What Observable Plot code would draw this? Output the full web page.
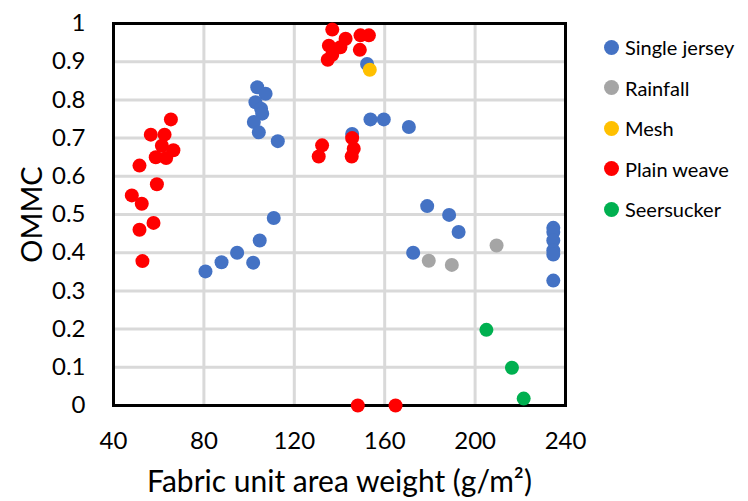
<!DOCTYPE html>
<html>
<head>
<meta charset="utf-8">
<script src="https://cdn.jsdelivr.net/npm/d3@7"></script>
<script src="https://cdn.jsdelivr.net/npm/@observablehq/plot@0.6"></script>
<style>
  html, body { margin: 0; padding: 0; background: #fff; }
  #wrap { position: relative; width: 748px; height: 501px; font-family: Lato, "Open Sans", sans-serif; }
  #legend { position: absolute; left: 604px; top: 27px; }
  .row { height: 40.5px; display: flex; align-items: center; font-size: 20px; color: #000; white-space: nowrap; }
  .sw { width: 15px; height: 15px; border-radius: 50%; margin-right: 6px; }
</style>
</head>
<body>
<div id="wrap"><div id="legend"></div></div>
<script>
// Series names and colours
const seriesNames = ["Single jersey", "Rainfall", "Mesh", "Plain weave", "Seersucker"];
const seriesColors = ["#4472C4", "#A5A5A5", "#FFC000", "#FF0000", "#00B050"];

// Ticks
const xTicks = [40, 80, 120, 160, 200, 240];
const yTicks = [0, 0.1, 0.2, 0.3, 0.4, 0.5, 0.6, 0.7, 0.8, 0.9, 1];

// Single jersey
const jerseyX = [103.6, 107.3, 102.8, 105.3, 105.8, 102.1, 104.3, 112.7,
  80.7, 87.8, 94.7, 101.8, 104.7, 110.9,
  178.8, 188.5, 192.7, 172.6,
  234.6, 234.6, 234.6, 234.6, 234.6, 234.6,
  152.2, 153.7, 159.6, 170.7, 145.6];
const jerseyY = [0.833, 0.816, 0.794, 0.777, 0.764, 0.742, 0.715, 0.692,
  0.351, 0.375, 0.400, 0.374, 0.432, 0.491,
  0.522, 0.499, 0.454, 0.400,
  0.465, 0.454, 0.432, 0.406, 0.395, 0.327,
  0.894, 0.749, 0.749, 0.729, 0.711];

// Rainfall
const rainfallX = [179.5, 189.7, 209.5];
const rainfallY = [0.379, 0.368, 0.419];

// Mesh
const meshX = [153.4];
const meshY = [0.879];

// Plain weave
const plainX = [65.4, 56.5, 62.6, 61.4, 66.5, 58.7, 63.3, 51.5, 59.2, 48.1, 52.5, 57.7, 51.5, 52.8,
  132.3, 130.8, 145.6, 146.3, 145.4,
  136.8, 142.7, 149.3, 153.0, 135.3, 140.4, 149.0, 136.8, 134.8,
  148.1, 164.8];
const plainY = [0.749, 0.709, 0.709, 0.680, 0.668, 0.650, 0.648, 0.628, 0.579, 0.550, 0.528, 0.478, 0.460, 0.378,
  0.681, 0.652, 0.700, 0.672, 0.652,
  0.984, 0.960, 0.969, 0.969, 0.942, 0.938, 0.931, 0.918, 0.905,
  0, 0];

// Seersucker
const seerX = [205.0, 216.3, 221.5];
const seerY = [0.198, 0.099, 0.018];

const seriesX = [jerseyX, rainfallX, meshX, plainX, seerX];
const seriesY = [jerseyY, rainfallY, meshY, plainY, seerY];

const data = [];
seriesNames.forEach((name, i) => {
  seriesX[i].forEach((x, j) => data.push({series: name, x, y: seriesY[i][j]}));
});

const chart = Plot.plot({
  width: 748,
  height: 501,
  marginLeft: 113,
  marginRight: 183,
  marginTop: 23,
  marginBottom: 96,
  style: {fontFamily: "Lato, 'Open Sans', sans-serif", fontSize: "24px", color: "#000", background: "#fff"},
  x: {domain: [40, 240]},
  y: {domain: [0, 1]},
  color: {domain: seriesNames, range: seriesColors},
  marks: [
    Plot.gridX(xTicks, {stroke: "#d9d9d9", strokeOpacity: 1, strokeWidth: 3}),
    Plot.gridY(yTicks, {stroke: "#d9d9d9", strokeOpacity: 1, strokeWidth: 3}),
    Plot.frame({stroke: "#000", strokeWidth: 3}),
    Plot.axisX({ticks: xTicks, tickSize: 0, tickPadding: 26, fontSize: 24,
      label: "Fabric unit area weight (g/m²)", labelAnchor: "center", labelArrow: "none", labelOffset: 86}),
    Plot.axisY({ticks: yTicks, tickSize: 0, tickPadding: 28, fontSize: 24, tickFormat: d => String(d),
      label: "OMMC", labelAnchor: "center", labelArrow: "none", labelOffset: 92}),
    Plot.dot(data, {x: "x", y: "y", fill: "series", r: 7, stroke: "none"})
  ]
});
chart.querySelectorAll('[aria-label="x-axis label"] text').forEach(t => t.style.fontSize = "30px");
chart.querySelectorAll('[aria-label="y-axis label"] text').forEach(t => t.style.fontSize = "29px");
document.getElementById("wrap").prepend(chart);

const legend = document.getElementById("legend");
seriesNames.forEach((name, i) => {
  const row = document.createElement("div");
  row.className = "row";
  const sw = document.createElement("span");
  sw.className = "sw";
  sw.style.background = seriesColors[i];
  const label = document.createElement("span");
  label.textContent = name;
  row.appendChild(sw);
  row.appendChild(label);
  legend.appendChild(row);
});
</script>
</body>
</html>
